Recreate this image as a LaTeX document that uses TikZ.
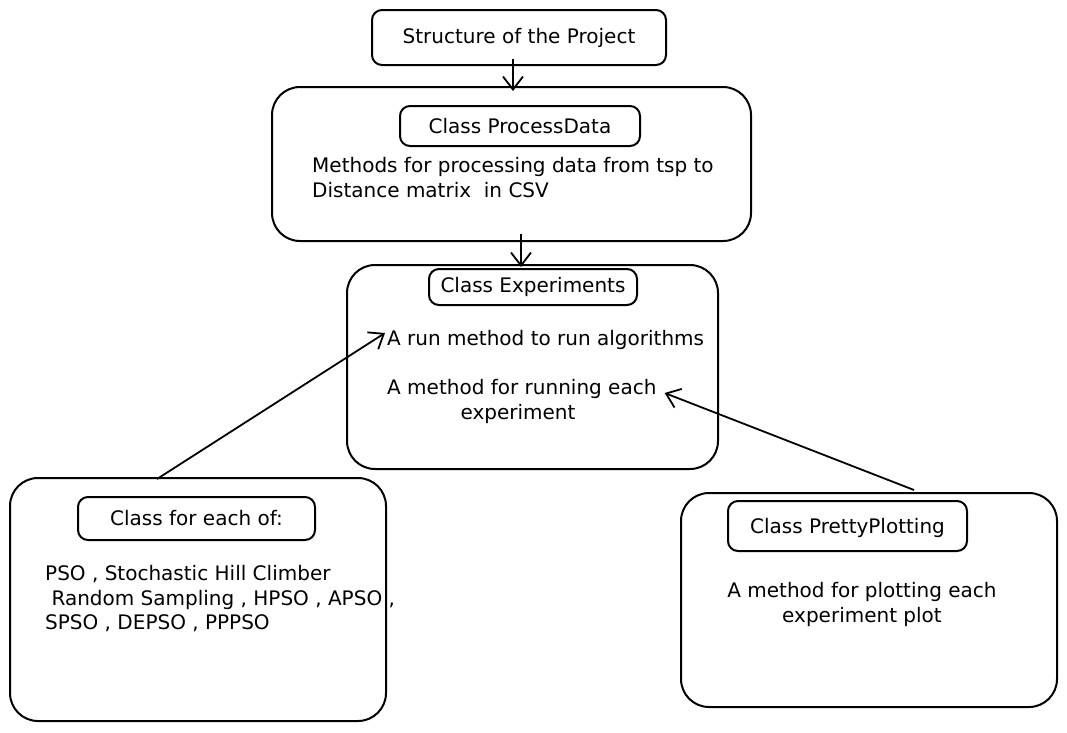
\documentclass[tikz,border=0pt]{standalone}
\usepackage{fontspec}
\setmainfont{DejaVu Sans}
\usetikzlibrary{arrows.meta,calc}
\begin{document}
\begin{tikzpicture}[x=1pt,y=-1pt,
  font=\fontsize{20}{25}\selectfont,
  outerbox/.style={draw,line width=2pt,rounded corners=28pt,inner sep=0pt},
  innerbox/.style={draw,line width=2pt,rounded corners=10pt,inner sep=0pt},
  txt/.style={inner sep=0pt,anchor=base west},
  ctxt/.style={inner sep=0pt,anchor=base},
  arr/.style={line width=1.8pt,-{Straight Barb[length=13pt,width=20pt,line width=1.8pt]}}
]
\useasboundingbox (0,0) rectangle (1067,732);
% title
\node[innerbox,minimum width=294pt,minimum height=55pt] (title) at (519,37.5) {Structure of the Project};
% ProcessData
\node[outerbox,minimum width=479pt,minimum height=154pt] (pd) at (511.5,164) {};
\node[innerbox,minimum width=240pt,minimum height=40pt] (pdh) at (520,126) {Class ProcessData};
\node[txt] (pd1) at (312,172) {Methods for processing data from tsp to};
\node[txt] (pd2) at (312,197) {Distance matrix\ \ in CSV};
% Experiments
\node[outerbox,minimum width=371pt,minimum height=204pt] (ex) at (532.5,367) {};
\node[innerbox,minimum width=208pt,minimum height=36pt] (exh) at (533,287) {Class Experiments};
\node[txt] (run) at (387,345) {A run method to run algorithms};
\node[txt] (m1) at (387,394) {A method for running each};
\node[ctxt] (m2) at (518,419) {experiment};
% Class for each
\node[outerbox,minimum width=376pt,minimum height=243pt] (cl) at (198,599.5) {};
\node[innerbox,minimum width=237pt,minimum height=43pt] (clh) at (196.5,518.5) {Class for each of:};
\node[txt] (cl1) at (45,580) {PSO , Stochastic Hill Climber};
\node[txt] (cl2) at (45,605) {\ Random Sampling , HPSO , APSO ,};
\node[txt] (cl3) at (45,629) {SPSO , DEPSO , PPPSO};
% PrettyPlotting
\node[outerbox,minimum width=376pt,minimum height=214pt] (pp) at (869,600) {};
\node[innerbox,minimum width=239pt,minimum height=50pt,text depth=-8pt] (pph) at (847.5,526) {Class PrettyPlotting};
\node[ctxt] (pp1) at (862,597) {A method for plotting each};
\node[ctxt] (pp2) at (862,622) {experiment plot};
% connectors
\draw[arr] ([xshift=-6pt,yshift=7pt]title.south) -- ([xshift=-6pt,yshift=-5pt]title.south |- pd.north);
\draw[arr] ([xshift=9.5pt,yshift=8pt]pd.south) -- ([xshift=9.5pt,yshift=-3pt]pd.south |- ex.north);
\draw[arr] ([xshift=-41pt,yshift=-2pt]cl.north) -- ([xshift=-2pt,yshift=6.5pt]run.west);
\draw[arr] ([xshift=45pt,yshift=2pt]pp.north) -- ([xshift=8pt,yshift=-4.5pt]m1.east);
\end{tikzpicture}
\end{document}
